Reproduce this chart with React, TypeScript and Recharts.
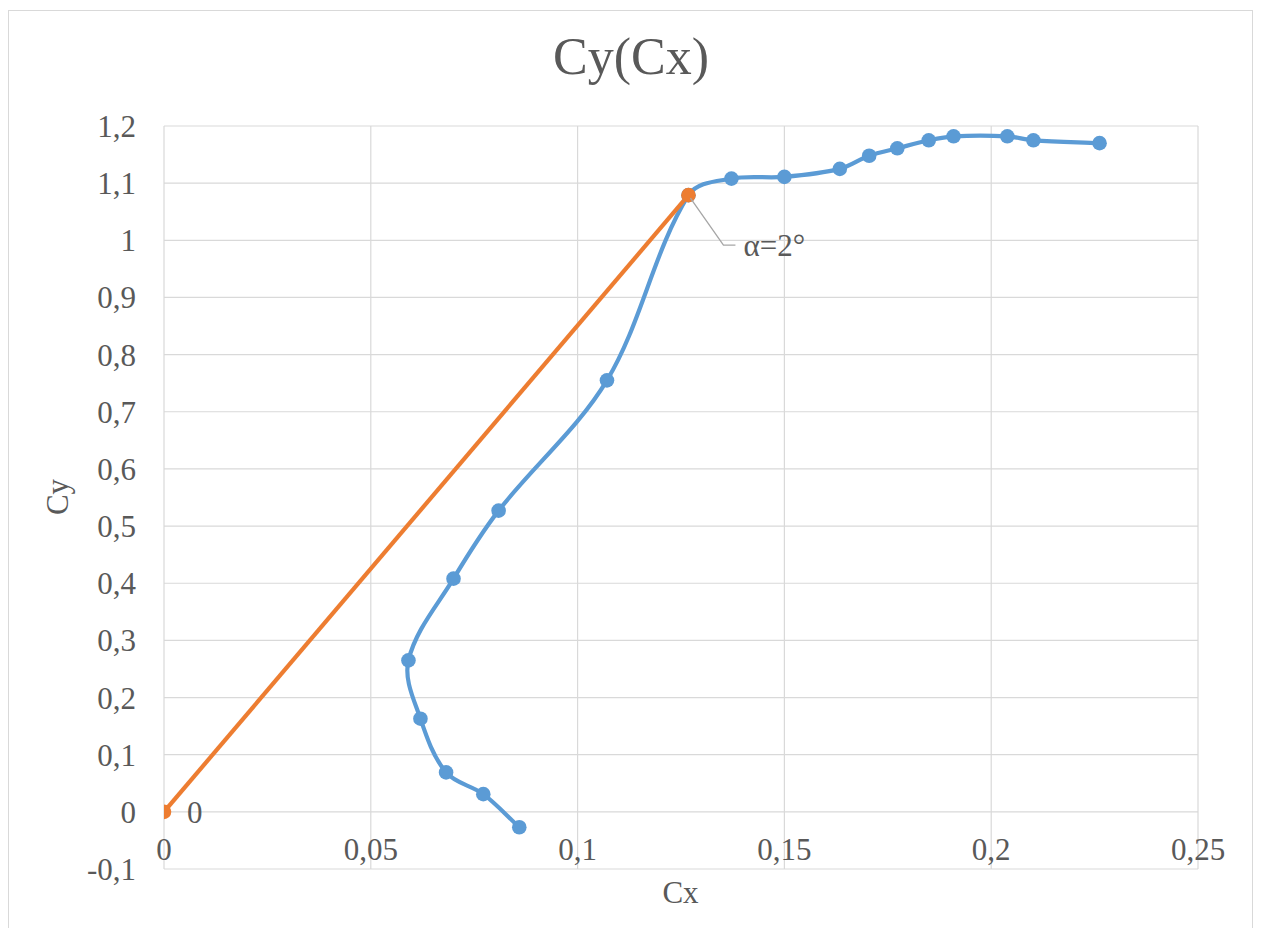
import React from "react";
import {
  LineChart,
  Line,
  XAxis,
  YAxis,
  CartesianGrid,
  LabelList,
} from "recharts";

// polar: Cy vs Cx
const cxValues = [
  0.0859, 0.0772, 0.0682, 0.062, 0.0591, 0.07, 0.0809, 0.1071, 0.1268, 0.1372,
  0.15, 0.1634, 0.1705, 0.1773, 0.1849, 0.1909, 0.2039, 0.2102, 0.2262,
];
const cyValues = [
  -0.027, 0.031, 0.069, 0.163, 0.265, 0.408, 0.527, 0.755, 1.079, 1.108, 1.111,
  1.125, 1.148, 1.161, 1.175, 1.182, 1.182, 1.175, 1.17,
];

// tangent from origin
const tangentCx = [0, 0.1268];
const tangentCy = [0, 1.079];
const tangentLabels = ["0", "α=2°"];

const xTicks = [0, 0.05, 0.1, 0.15, 0.2, 0.25];
const yTicks = [-0.1, 0, 0.1, 0.2, 0.3, 0.4, 0.5, 0.6, 0.7, 0.8, 0.9, 1, 1.1, 1.2];

const polar = cxValues.map((x, i) => ({ x, y: cyValues[i] }));
const tangent = tangentCx.map((x, i) => ({ x, y: tangentCy[i], label: tangentLabels[i] }));

const FONT = '"Liberation Serif", "Times New Roman", serif';
const TEXT = "#595959";
const BLUE = "#5B9BD5";
const ORANGE = "#ED7D31";

const fmt = (v: number) => String(v).replace(".", ",");

// Excel-like smoothing: tangent along neighbours, handle length ~ 1/3 of the segment
const smoothCurve = (ctx: any) => {
  let pts: number[][] = [];
  const handle = (from: number[], a: number[], b: number[], len: number, sign: number) => {
    const dx = b[0] - a[0];
    const dy = b[1] - a[1];
    const d = Math.hypot(dx, dy) || 1;
    return [from[0] + (sign * dx * len) / d, from[1] + (sign * dy * len) / d];
  };
  return {
    areaStart() {},
    areaEnd() {},
    lineStart() {
      pts = [];
    },
    point(x: number, y: number) {
      pts.push([+x, +y]);
    },
    lineEnd() {
      if (!pts.length) return;
      ctx.moveTo(pts[0][0], pts[0][1]);
      for (let i = 0; i < pts.length - 1; i++) {
        const p0 = pts[Math.max(i - 1, 0)];
        const p1 = pts[i];
        const p2 = pts[i + 1];
        const p3 = pts[Math.min(i + 2, pts.length - 1)];
        const seg = Math.hypot(p2[0] - p1[0], p2[1] - p1[1]) / 3;
        const c1 = handle(p1, p0, p2, seg, 1);
        const c2 = handle(p2, p1, p3, seg, -1);
        ctx.bezierCurveTo(c1[0], c1[1], c2[0], c2[1], p2[0], p2[1]);
      }
    },
  };
};

const XTick = (p: any) => (
  <text x={p.x} y={p.y - 9} textAnchor="middle" fill={TEXT} fontSize={31} fontFamily={FONT}>
    {fmt(p.payload.value)}
  </text>
);

const YTick = (p: any) => (
  <text x={p.x} y={p.y + 11} textAnchor="end" fill={TEXT} fontSize={31} fontFamily={FONT}>
    {fmt(p.payload.value)}
  </text>
);

const PointLabel = (props: any) => {
  const vb = props.viewBox || {};
  const x = vb.x ?? props.x;
  const y = vb.y ?? props.y;
  if (props.value === tangentLabels[0]) {
    return (
      <text x={x + 23} y={y + 11} fill={TEXT} fontSize={31} fontFamily={FONT}>
        {props.value}
      </text>
    );
  }
  return (
    <g>
      <polyline
        points={`${x + 2},${y + 3} ${x + 35},${y + 50} ${x + 47},${y + 50}`}
        fill="none"
        stroke="#a6a6a6"
        strokeWidth={1.3}
      />
      <text x={x + 55} y={y + 61} fill={TEXT} fontSize={31} fontFamily={FONT}>
        {props.value}
      </text>
    </g>
  );
};

export default function App() {
  return (
    <div
      style={{
        position: "relative",
        top: 2,
        width: 1245,
        height: 920,
        boxSizing: "border-box",
        borderTop: "1px solid #d9d9d9",
        borderLeft: "1px solid #d9d9d9",
        borderRight: "1px solid #d9d9d9",
        background: "#fff",
      }}
    >
      <LineChart width={1243} height={919} margin={{ top: 115, right: 54, bottom: 0, left: 0 }}>
        <CartesianGrid stroke="#d9d9d9" strokeWidth={1.2} />
        <XAxis
          type="number"
          dataKey="x"
          domain={[0, 0.25]}
          ticks={xTicks}
          tick={XTick}
          tickLine={false}
          axisLine={false}
          tickSize={0}
          tickMargin={0}
          height={61}
          allowDataOverflow
        />
        <YAxis
          type="number"
          dataKey="y"
          domain={[-0.1, 1.2]}
          ticks={yTicks}
          tick={YTick}
          tickLine={false}
          axisLine={false}
          tickSize={0}
          tickMargin={28}
          width={155}
          allowDataOverflow
        />
        <Line
          data={polar}
          dataKey="y"
          type={smoothCurve as any}
          stroke={BLUE}
          strokeWidth={4.2}
          dot={{ r: 7.3, fill: BLUE, stroke: "none" }}
          isAnimationActive={false}
        />
        <Line
          data={tangent}
          dataKey="y"
          type="linear"
          stroke={ORANGE}
          strokeWidth={4.2}
          dot={{ r: 7.3, fill: ORANGE, stroke: "none" }}
          isAnimationActive={false}
        >
          <LabelList dataKey="label" content={PointLabel} />
        </Line>
      </LineChart>
      <svg
        width={1243}
        height={919}
        style={{ position: "absolute", left: 0, top: 0, pointerEvents: "none" }}
      >
        <text x={622} y={63} textAnchor="middle" fill={TEXT} fontSize={52} fontFamily={FONT}>
          Cy(Cx)
        </text>
        <text x={671.5} y={892} textAnchor="middle" fill={TEXT} fontSize={31} fontFamily={FONT}>
          Cx
        </text>
        <text
          x={59}
          y={486}
          transform="rotate(-90, 59, 486)"
          textAnchor="middle"
          fill={TEXT}
          fontSize={31}
          fontFamily={FONT}
        >
          Cy
        </text>
      </svg>
    </div>
  );
}
